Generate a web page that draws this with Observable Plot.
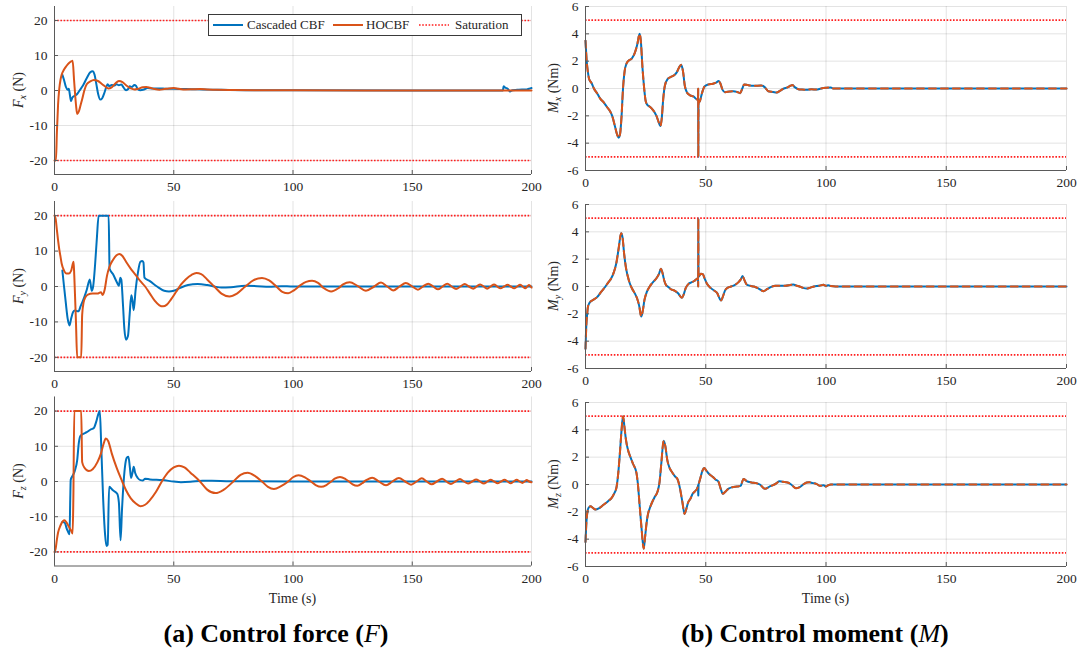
<!DOCTYPE html>
<html><head><meta charset="utf-8">
<script src="https://cdn.jsdelivr.net/npm/d3@7"></script>
<script src="https://cdn.jsdelivr.net/npm/@observablehq/plot@0.6"></script>
<style>
body{margin:0;background:#fff;}
#fig{position:relative;width:1083px;height:657px;font-family:"Liberation Serif",serif;color:#262626;overflow:hidden;}
#fig svg text{font-family:"Liberation Serif",serif !important;}
.panel{position:absolute;}
.cap{position:absolute;top:619px;font-size:26px;line-height:30px;font-weight:bold;color:#000;white-space:nowrap;transform:translateX(-50%);font-family:"Liberation Serif",serif;}
.cap i{font-weight:normal;}
#legend{position:absolute;left:208px;top:14px;width:312px;height:20px;border:1px solid #3a3a3a;background:#fff;font-size:13px;font-family:"Liberation Serif",serif;}
#legend span{position:absolute;top:2px;white-space:nowrap;line-height:16px;}
#legend svg{position:absolute;top:0;}
</style></head><body><div id="fig"></div>
<script>
// ---------- tick values ----------
const xTicks = [0, 50, 100, 150, 200];
const forceTicks = [-20, -10, 0, 10, 20];
const momentTicks = [-6, -4, -2, 0, 2, 4, 6];
const forceSat = 20, momentSat = 5;
const forceLim = 24, momentLim = 6;
const seriesNames = ["Cascaded CBF", "HOCBF", "Saturation"];

// ---------- data: [time (s), value] ----------
const fxHOCBF = [[0,-20],[0.6,-20],[1,-12],[1.5,-4],[2,0.5],[2.5,3],[3,4.5],[4,6],[5,7],[6,7.8],[7,8.3],[7.6,8.5],[8.2,3],[9,-4],[9.5,-6.7],[10.2,-6],[11,-4],[11.6,-2.5],[12.5,0],[13.5,1.8],[15,2.6],[16.5,3],[18,2.8],[20,1.8],[21.5,1],[22.5,0.6],[24,0.9],[25.5,2],[27,2.7],[28.5,2.4],[30,1.5],[32,0.6],[33.5,0.3],[35,0.5],[37,0.9],[38.5,1],[40,0.8],[42,0.4],[44,0.2],[46,0.4],[48,0.6],[50,0.7],[52,0.5],[55,0.3],[58,0.35],[61,0.4],[64,0.3],[68,0.2],[75,0.15],[85,0.1],[100,0.05],[130,0],[200,0]];
const fxCascaded = [[3.3,4.5],[4,3],[4.8,1],[5.5,0.2],[6,0.5],[6.4,-1],[6.9,-3],[7.5,-2],[8.5,-1.5],[9.5,-1],[10.5,0],[12,1.5],[13.5,3.5],[15,5.2],[16,5.5],[16.8,4.5],[17.5,2],[18.3,-1],[19.2,-2.6],[20,-2.2],[21,-0.5],[21.8,1.2],[22.3,1.8],[23,1.2],[24,1.6],[25,1.4],[26,1.8],[27,1.5],[28,1.7],[29,0.8],[30,0.1],[31,0.5],[31.5,1.2],[32.5,1],[33.5,1.6],[34.2,1.3],[35,0.3],[36,0.1],[37.5,0.3],[39,0.7],[41,0.6],[44,0.6],[47,0.5],[50,0.5],[55,0.4],[60,0.35],[65,0.25],[70,0.2],[80,0.1],[100,0.05],[150,0],[188,0],[188.3,1.2],[189,0.8],[190,0.5],[191,-0.3],[192,0.1],[194,0.2],[196,0.3],[198,0.3],[199,0.5],[200,0.7]];

const fyHOCBF = [[0,20],[0.5,19],[1,16],[1.5,13],[2,10.5],[2.5,8.5],[3,6.5],[4,4.5],[5,3.7],[6,3.7],[7,4.5],[7.7,6.5],[8,7],[8.3,3],[9,-10],[9.5,-20],[11.2,-20],[11.6,-8],[12.2,-4.5],[13,-3],[14,-2.3],[16,-2],[18,-2],[19.5,-1.6],[20.2,-2.4],[21,-1],[22,3],[23,5.5],[24.5,7.5],[26,8.8],[27.2,9.2],[28.5,8.6],[30,7],[32,5],[34,3.3],[36,1.5],[38,0],[40,-2],[42,-4],[44,-5.3],[45.5,-5.6],[47,-5.2],[49,-3.5],[51,-1.5],[53,0.5],[55,2],[57.5,3.3],[59.5,3.8],[61.5,3.5],[64,2],[67,0],[70,-2],[73.3,-2.8],[76.5,-2],[80,0],[83.5,1.8],[87,2.4],[90,1.7],[93,0],[95.5,-1.5],[98,-1.9],[100.5,-1],[103,0.3],[105.5,1.3],[108,1.6],[110.5,1],[113,-0.5],[116,-1.4],[119,-0.5],[121,0.6],[123.8,1.2],[127,0.2],[130.6,-1.2],[134,0],[136.9,1.1],[139.5,0],[142,-1.1],[144.7,0],[147.3,1],[150,0],[152.4,-0.9],[154.5,0],[156.7,0.8],[158.8,0],[160.8,-0.8],[162.7,0],[164.7,0.8],[166.5,0],[168.4,-0.7],[170.2,0],[172,0.7],[173.8,0],[175.6,-0.6],[177,0],[178.5,0.6],[180,0],[181.4,-0.6],[182.9,0],[184.3,0.6],[185.6,0],[187,-0.5],[188.5,0],[190,0.5],[191.3,0],[192.7,-0.5],[194,0],[195.2,0.5],[196.3,0],[197.4,-0.5],[198.2,0],[199,0.4],[200,-0.3]];
const fyCascaded = [[3.3,4.5],[4,0],[4.8,-5],[5.5,-9],[6.3,-11],[7,-9],[7.8,-7.2],[8.5,-6.8],[10,-7],[11,-5.5],[12.5,-3],[13.5,-1],[14.8,2],[15.6,-1.2],[16.2,0],[17,6],[17.8,14],[18.5,20],[22.7,20],[23.1,5],[24.5,3.5],[26.3,1],[27,0.2],[27.6,2.5],[28,2],[28.7,-5],[29.3,-12],[30,-15],[30.8,-14],[31.5,-8],[32.2,-2.5],[32.7,-4],[33.2,-6.7],[34,-1],[35,4],[36,7],[36.8,7.2],[37.3,6.8],[37.7,2.5],[40,1.5],[43,0],[46,-1.2],[48,-1.4],[50,-1.2],[53,-0.3],[56,0.4],[60,0.7],[64,0.4],[67,0],[70,-0.3],[74,-0.2],[80,0.2],[85,0.1],[90,-0.1],[95,0.1],[100,0],[200,0]];

const fzHOCBF = [[0,-20],[0.5,-19],[1,-16.5],[1.5,-14.5],[2.5,-12.5],[3.5,-11.3],[4.2,-11],[5,-11.6],[6,-12.8],[7,-14],[7.6,-14.8],[7.9,-5],[8.3,20],[11.2,20],[11.6,5.5],[12.5,4],[14.4,3],[16,3.5],[18,5.5],[19.5,8],[20.5,10.5],[21.5,12.2],[22.5,11.5],[24,8],[26,4],[28.4,0],[30,-2.5],[32,-4.8],[34,-6.2],[36,-7],[38,-6.6],[40,-5.3],[42.5,-3],[45,0],[47.5,2.5],[50,4],[52.2,4.5],[54.5,4],[57,2.5],[61,0],[64,-2.3],[67.5,-3.3],[71,-2.3],[75,0],[78,1.9],[81,2.5],[84,1.6],[87,0],[89.5,-1.5],[92,-2.1],[95,-1.3],[98,0],[100,1.2],[102.3,1.8],[105,1.2],[107.5,0],[109.5,-1],[111.8,-1.5],[114,-1],[116,0],[117.5,0.8],[119.7,1.3],[122,0.7],[123.5,0],[125,-0.8],[127,-1.2],[129,-0.5],[130.5,0.3],[133.2,1.1],[136,0],[139,-1.1],[141.7,0],[144.4,1],[147,0],[149.5,-0.9],[151.8,0],[154,0.9],[156.1,0],[158.2,-0.8],[160.3,0],[162.5,0.8],[164.3,0],[166.2,-0.7],[168.1,0],[170,0.7],[171.7,0],[173.4,-0.6],[175.1,0],[176.8,0.6],[178.4,0],[180,-0.6],[181.5,0],[182.9,0.5],[184.3,0],[185.8,-0.5],[187.2,0],[188.7,0.5],[190,0],[191.3,-0.5],[192.5,0],[193.8,0.5],[195,0],[196.2,-0.4],[197.1,0],[198,0.4],[199,0],[200,-0.2]];
const fzCascaded = [[3.3,-11.5],[4.2,-11.6],[5.2,-13.5],[6.3,-15],[6.6,-5],[6.8,0.5],[7.5,1.5],[8.5,3],[9.5,6],[10.2,11],[10.9,13],[12,13.5],[13.5,14],[15,14.7],[16.5,15.2],[17.5,17],[18.3,19],[19,20],[19.6,10],[20.4,-5],[21.2,-15],[21.8,-18.3],[22.3,-18],[22.9,-1.5],[24.5,-2.5],[26.3,-3.5],[27,-6],[27.7,-16.7],[28.3,-8],[29,0],[29.7,5],[30.4,6.8],[31,7],[31.6,4],[32.1,1],[32.7,2.5],[33.2,4.2],[33.8,2.5],[34.9,1],[36,0.4],[37,0.3],[38,0.8],[40,0.6],[45,0.4],[50,0],[53,-0.2],[57,-0.1],[62,0.2],[66,0.2],[72,0.1],[80,0.05],[100,0],[200,0]];

const mxValues = [[0,3.5],[0.5,2],[1,1.2],[1.5,0.7],[2.5,0.4],[3.5,0],[5,-0.4],[6.2,-0.76],[7.5,-1],[9,-1.37],[10,-1.6],[11.1,-2],[12.3,-2.8],[13.2,-3.4],[13.8,-3.6],[14.4,-3.3],[15,-2],[15.6,0],[16.3,1.3],[17,1.8],[18,2.05],[19.3,2.2],[20.5,2.6],[21.5,3.2],[22.5,4],[23,3.5],[23.7,1.5],[24.4,0],[25,-0.9],[25.6,-1.17],[26.5,-1.3],[28,-1.56],[29.5,-2],[30.5,-2.5],[31.1,-2.75],[31.7,-2.2],[32.3,-0.8],[33,0.2],[34.2,0.7],[35.5,0.85],[36.7,0.95],[38,1.2],[39.1,1.6],[39.8,1.73],[40.5,1.3],[41.3,0.2],[42.2,-0.3],[43.5,-0.5],[45,-0.6],[46.3,-0.8],[46.8,-0.75],[46.85,0],[46.9,-5],[47,-1.1],[47.6,-0.9],[48.5,-0.3],[49.5,0.15],[51.2,0.3],[53,0.35],[54.5,0.45],[55.3,0.54],[56,0.4],[57,-0.1],[58,-0.27],[60,-0.22],[61.5,-0.2],[63,-0.25],[64.3,-0.34],[65.2,0],[66,0.3],[67.5,0.25],[70,0.2],[73,0.22],[74.5,0.1],[76,-0.2],[78,-0.25],[79.5,-0.3],[81,-0.15],[82.5,0],[84,0.08],[85.2,0.2],[86,0.25],[87,0.1],[88.5,-0.05],[90,-0.08],[92,-0.1],[94,-0.05],[96,-0.08],[98,0],[100,0.05],[102,0.08],[103,0],[105,0],[200,0]];
const myValues = [[0,-4.56],[0.3,-3],[0.7,-2],[1,-1.5],[1.5,-1.25],[2.1,-1.1],[3,-1],[4.8,-0.78],[6.5,-0.4],[8.3,0],[9.5,0.3],[10.6,0.56],[11.8,1.05],[12.8,1.7],[13.8,2.8],[14.8,3.9],[15.4,3.6],[16,2.5],[16.8,1.4],[17.5,0.8],[18.4,0.24],[19.5,-0.2],[20.5,-0.5],[21.5,-0.9],[22.3,-1.4],[23.2,-2.2],[23.8,-1.8],[24.5,-1],[25.5,-0.4],[26.7,0],[28,0.3],[29.5,0.6],[30.5,0.9],[31.4,1.3],[32,1],[32.8,0.4],[33.5,0.1],[34.2,0],[35.5,-0.2],[37,-0.3],[38.5,-0.5],[40.1,-0.83],[40.8,-0.6],[41.7,-0.1],[42.9,0.2],[44,0.3],[45.2,0.4],[46.3,0.56],[46.8,0.6],[46.85,0],[46.9,5],[47,0.7],[48,0.93],[48.8,0.9],[49.5,0.6],[50.5,0.2],[52,-0.1],[53.5,-0.3],[54.8,-0.5],[55.8,-0.9],[56.4,-1.02],[57,-0.8],[58,-0.3],[59,-0.1],[60.5,0],[62,0.1],[63.5,0.3],[64.5,0.5],[65.3,0.76],[66,0.5],[67,0.15],[68.5,0.05],[70,0],[72,-0.15],[74,-0.34],[75.5,-0.2],[77,-0.05],[79,0.05],[81,0.05],[83,0.05],[85,0.1],[86.4,0.15],[87.5,0.08],[89,0],[90.5,-0.1],[92,-0.15],[93.5,-0.08],[95,0],[97,0.05],[99,0.12],[100,0.05],[101,0.1],[102,0.03],[104,0],[200,0]];
const mzValues = [[0,-4.2],[0.3,-3],[0.8,-2],[1.3,-1.7],[2.1,-1.6],[3,-1.7],[4.1,-1.83],[5.5,-1.75],[7,-1.55],[8.5,-1.35],[9.7,-1.17],[10.8,-1],[11.8,-0.7],[12.9,-0.2],[13.6,0.8],[14.3,2.3],[15,4],[15.6,5],[16.2,4.2],[16.8,3.3],[17.7,2.5],[18.7,2],[19.8,1.5],[21.2,0.83],[21.8,0],[22.5,-1.5],[23.3,-3.2],[24.2,-4.7],[24.8,-3.8],[25.4,-2.8],[26,-2.15],[26.8,-1.7],[27.7,-1.3],[28.8,-0.9],[30,-0.5],[30.8,0.2],[31.5,1.5],[32.5,3.2],[33.2,2.8],[34,1.8],[35,1.2],[36,0.9],[37.2,0.6],[38.3,0.37],[39.3,-0.3],[40.3,-1.3],[41.2,-2.15],[41.9,-1.8],[42.7,-1.3],[43.6,-1.05],[44.5,-0.7],[45.5,-0.5],[46.4,-0.3],[47,0],[47.8,0.5],[48.6,1],[49.4,1.2],[50.3,1],[51.5,0.75],[53,0.55],[54,0.37],[55.3,0.2],[56.2,-0.3],[57.1,-0.68],[58,-0.55],[59.5,-0.3],[61,-0.2],[63,-0.15],[64.5,-0.1],[65.7,0.41],[67,0.25],[69,0.15],[71,0.1],[72.5,0],[74.7,-0.32],[76.5,-0.15],[78,-0.05],[79.5,0.1],[80.6,0.24],[82,0.2],[84,0.15],[85.5,0],[87.5,-0.27],[89,-0.2],[90.5,0],[92,0.15],[93,0.17],[94.5,0.1],[96,0.05],[97.5,-0.1],[99,-0.05],[100,-0.15],[101,-0.05],[102,0],[200,0]];
const mzCascadedSpike = [[46.8,-0.3],[46.9,-0.8],[47,-0.1]];

// ---------- panels ----------
const BLUE = "#0072BD", ORANGE = "#D95319", RED = "#ff1f1f", AXIS = "#5a5a5a";
const FF = '"Liberation Serif", serif';
const fig = document.getElementById("fig");

function makePanel(c) {
  const plotW = c.width - c.mL - c.mR;
  const tickLenX = 4 * 200 / plotW;
  const tickLenY = 4 * 2 * c.lim / c.plotH;
  const lo = {x: d => d[0], y: d => d[1], curve: "monotone-x", strokeWidth: 2};
  const marks = [
    Plot.ruleX(xTicks, {stroke: "#262626", strokeOpacity: 0.13}),
    Plot.ruleY(c.yTicks, {stroke: "#262626", strokeOpacity: 0.13}),
    Plot.ruleY([c.sat, -c.sat], {stroke: RED, strokeWidth: 1.6, strokeDasharray: "1.6,1.6"}),
    Plot.line(c.blue, {...lo, stroke: BLUE}),
  ];
  if (c.extraBlue) marks.push(Plot.line(c.extraBlue, {...lo, curve: "linear", stroke: BLUE}));
  marks.push(c.dashed
    ? Plot.line(c.orange, {...lo, stroke: ORANGE, strokeDasharray: "7,5"})
    : Plot.line(c.orange, {...lo, stroke: ORANGE}));
  marks.push(
    Plot.ruleX([0], {stroke: AXIS, strokeWidth: 1}),
    Plot.ruleY([-c.lim], {stroke: AXIS, strokeWidth: 1}),
    Plot.ruleY(c.yTicks, {x1: 0, x2: tickLenX, stroke: AXIS}),
    Plot.ruleX(xTicks, {y1: -c.lim, y2: -c.lim + tickLenY, stroke: AXIS})
  );
  const svg = Plot.plot({
    width: c.width,
    height: c.mT + c.plotH + c.mB,
    marginLeft: c.mL, marginRight: c.mR, marginTop: c.mT, marginBottom: c.mB,
    style: {fontFamily: FF, fontSize: "13.5px", color: "#262626", background: "transparent", overflow: "visible"},
    x: {domain: [0, 200], ticks: xTicks, tickSize: 0, tickPadding: 7, label: null, tickFormat: d => String(d)},
    y: {domain: [-c.lim, c.lim], ticks: c.yTicks, tickSize: 0, tickPadding: 7, label: null, tickFormat: d => String(d)},
    marks
  });
  const s = d3.select(svg);
  const t = s.append("text")
    .attr("transform", `translate(${c.labelX},${c.mT + c.plotH / 2}) rotate(-90)`)
    .attr("text-anchor", "middle").attr("font-size", 14).attr("fill", "#262626");
  t.append("tspan").attr("font-style", "italic").text(c.sym);
  t.append("tspan").attr("font-style", "italic").attr("font-size", 10).attr("dy", 3).text(c.sub);
  t.append("tspan").attr("dy", -3).text(" " + c.unit);
  if (c.xlabel) {
    s.append("text").attr("x", c.mL + plotW / 2).attr("y", c.mT + c.plotH + 37)
      .attr("text-anchor", "middle").attr("font-size", 14).attr("fill", "#262626")
      .text(c.xlabel);
  }
  s.selectAll("text").style("font-family", FF);
  const wrap = document.createElement("div");
  wrap.className = "panel";
  wrap.style.left = c.left + "px";
  wrap.style.top = c.top + "px";
  wrap.appendChild(svg);
  fig.appendChild(wrap);
}

const L = {left: 0, width: 545, mL: 54, mR: 14, lim: forceLim, yTicks: forceTicks, sat: forceSat, unit: "(N)", sym: "F", labelX: 23, dashed: false};
const R = {left: 540, width: 543, mL: 45, mR: 17, lim: momentLim, yTicks: momentTicks, sat: momentSat, unit: "(Nm)", sym: "M", labelX: 18, dashed: true};

makePanel({...L, top: 0, mT: 6, plotH: 168, mB: 24, blue: fxCascaded, orange: fxHOCBF, sub: "x"});
makePanel({...L, top: 195, mT: 6, plotH: 170, mB: 24, blue: fyCascaded, orange: fyHOCBF, sub: "y"});
makePanel({...L, top: 390, mT: 6.5, plotH: 169, mB: 45, blue: fzCascaded, orange: fzHOCBF, sub: "z", xlabel: "Time (s)"});
makePanel({...R, top: 0, mT: 6, plotH: 164, mB: 24, blue: mxValues, orange: mxValues, sub: "x"});
makePanel({...R, top: 198, mT: 6, plotH: 164, mB: 24, blue: myValues, orange: myValues, sub: "y"});
makePanel({...R, top: 396, mT: 6, plotH: 164, mB: 45, blue: mzValues, orange: mzValues, extraBlue: mzCascadedSpike, sub: "z", xlabel: "Time (s)"});

// ---------- legend ----------
const leg = document.createElement("div");
leg.id = "legend";
const items = [
  {x: 4, tx: 38, name: seriesNames[0], color: BLUE, dash: null},
  {x: 124, tx: 157, name: seriesNames[1], color: ORANGE, dash: null},
  {x: 210, tx: 246, name: seriesNames[2], color: RED, dash: "1.6,1.6"}
];
items.forEach(it => {
  const sw = document.createElementNS("http://www.w3.org/2000/svg", "svg");
  sw.setAttribute("width", 32); sw.setAttribute("height", 20);
  sw.style.left = it.x + "px";
  const ln = document.createElementNS("http://www.w3.org/2000/svg", "line");
  ln.setAttribute("x1", 0); ln.setAttribute("x2", 30); ln.setAttribute("y1", 10); ln.setAttribute("y2", 10);
  ln.setAttribute("stroke", it.color); ln.setAttribute("stroke-width", it.dash ? 1.6 : 2);
  if (it.dash) ln.setAttribute("stroke-dasharray", it.dash);
  sw.appendChild(ln);
  leg.appendChild(sw);
  const sp = document.createElement("span");
  sp.style.left = it.tx + "px";
  sp.textContent = it.name;
  leg.appendChild(sp);
});
fig.appendChild(leg);

// ---------- captions ----------
const capA = document.createElement("div");
capA.className = "cap"; capA.style.left = "276px";
capA.innerHTML = "(a) Control force (<i>F</i>)";
const capB = document.createElement("div");
capB.className = "cap"; capB.style.left = "815px";
capB.innerHTML = "(b) Control moment (<i>M</i>)";
fig.appendChild(capA); fig.appendChild(capB);
</script></body></html>
